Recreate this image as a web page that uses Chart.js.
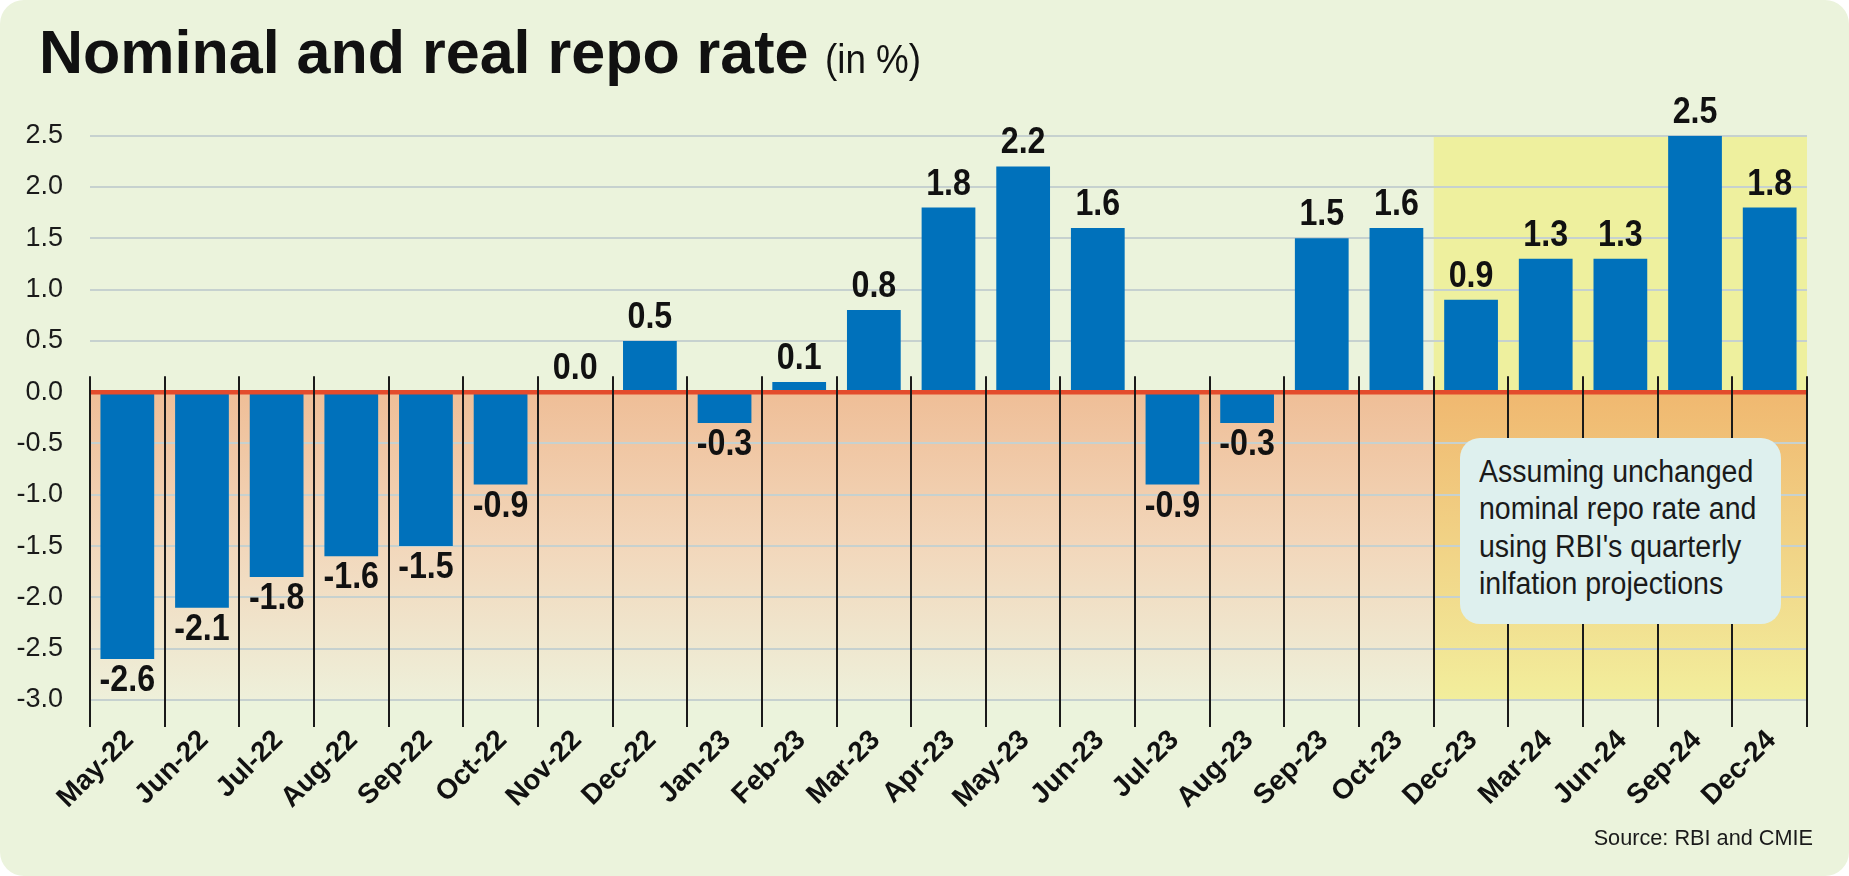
<!DOCTYPE html>
<html>
<head>
<meta charset="utf-8">
<script src="https://cdn.jsdelivr.net/npm/chart.js@4.4.1/dist/chart.umd.min.js"></script>
<style>
html,body{margin:0;padding:0;background:#ffffff;}
#wrap{position:relative;width:1849px;height:876px;overflow:hidden;}
#panel{position:absolute;left:0;top:0;width:1849px;height:876px;background:#ebf3dc;border-radius:24px;}
#chart{position:absolute;left:0;top:0;}
.t{position:absolute;font-family:'Liberation Sans',Arial,sans-serif;color:#111;white-space:nowrap;}
#title{left:39px;top:22.4px;font-size:61px;line-height:61px;font-weight:bold;}
#title span{font-weight:normal;font-size:40px;display:inline-block;transform:scaleX(0.92);transform-origin:left bottom;}
#note{position:absolute;left:1460px;top:438px;width:321px;height:186px;background:#def0ee;border-radius:20px;}
#note .t{left:19px;top:14.5px;font-size:31px;line-height:37.5px;transform:scaleX(0.92);transform-origin:left top;color:#1a1a1a;}
#src{right:36px;top:826.6px;font-size:21.7px;line-height:21.7px;color:#1a1a1a;}
</style>
</head>
<body>
<div id="wrap">
  <div id="panel"></div>
  <canvas id="chart" width="1849" height="876"></canvas>
  <div id="title" class="t">Nominal and real repo rate <span>(in %)</span></div>
  <div id="note"><div class="t">Assuming unchanged<br>nominal repo rate and<br>using RBI's quarterly<br>inlfation projections</div></div>
  <div id="src" class="t">Source: RBI and CMIE</div>
</div>
<script>
const categories = ['May-22','Jun-22','Jul-22','Aug-22','Sep-22','Oct-22','Nov-22','Dec-22','Jan-23','Feb-23','Mar-23','Apr-23','May-23','Jun-23','Jul-23','Aug-23','Sep-23','Oct-23','Dec-23','Mar-24','Jun-24','Sep-24','Dec-24'];
const realRepoRate = [-2.6,-2.1,-1.8,-1.6,-1.5,-0.9,0.0,0.5,-0.3,0.1,0.8,1.8,2.2,1.6,-0.9,-0.3,1.5,1.6,0.9,1.3,1.3,2.5,1.8];
const yTicks = [-3.0,-2.5,-2.0,-1.5,-1.0,-0.5,0.0,0.5,1.0,1.5,2.0,2.5];
const projectionStart = 'Dec-23';

const FONT = "'Liberation Sans', Arial, sans-serif";

const decor = {
  id: 'decor',
  beforeDraw(chart) {
    const ctx = chart.ctx, ca = chart.chartArea, x = chart.scales.x, y = chart.scales.y;
    const half = (x.getPixelForValue(1) - x.getPixelForValue(0)) / 2;
    const zeroY = y.getPixelForValue(0);
    const bottom = y.getPixelForValue(yTicks[0]);
    const top = y.getPixelForValue(yTicks[yTicks.length - 1]);
    const projX = x.getPixelForValue(categories.indexOf(projectionStart)) - half;
    ctx.save();
    let g = ctx.createLinearGradient(0, zeroY, 0, bottom);
    g.addColorStop(0, '#efbe97');
    g.addColorStop(0.5, '#f2d7bb');
    g.addColorStop(1, '#eef0da');
    ctx.fillStyle = g;
    ctx.fillRect(ca.left, zeroY, projX - ca.left, bottom - zeroY);
    ctx.fillStyle = '#eef09e';
    ctx.fillRect(projX, top, ca.right - projX, zeroY - top);
    g = ctx.createLinearGradient(0, zeroY, 0, bottom);
    g.addColorStop(0, '#f0b870');
    g.addColorStop(1, '#f2ee9c');
    ctx.fillStyle = g;
    ctx.fillRect(projX, zeroY, ca.right - projX, bottom - zeroY);
    ctx.restore();
  },
  afterDatasetsDraw(chart) {
    const ctx = chart.ctx, ca = chart.chartArea, x = chart.scales.x, y = chart.scales.y;
    const half = (x.getPixelForValue(1) - x.getPixelForValue(0)) / 2;
    const zeroY = y.getPixelForValue(0);
    ctx.save();
    ctx.strokeStyle = '#e34b2c';
    ctx.lineWidth = 4.5;
    ctx.beginPath();
    ctx.moveTo(ca.left, zeroY);
    ctx.lineTo(ca.right, zeroY);
    ctx.stroke();
    ctx.strokeStyle = '#1a1a1a';
    ctx.lineWidth = 2;
    ctx.beginPath();
    for (let i = 0; i <= categories.length; i++) {
      const px = Math.round(i < categories.length ? x.getPixelForValue(i) - half : x.getPixelForValue(i - 1) + half);
      ctx.moveTo(px, zeroY - 16);
      ctx.lineTo(px, ca.bottom + 27);
    }
    ctx.stroke();
    const meta = chart.getDatasetMeta(0);
    ctx.fillStyle = '#111';
    ctx.font = 'bold 37px ' + FONT;
    ctx.textAlign = 'center';
    ctx.textBaseline = 'alphabetic';
    meta.data.forEach((bar, i) => {
      const v = realRepoRate[i];
      const by = v >= 0 ? bar.y - 13 : bar.y + 32;
      ctx.save();
      ctx.translate(bar.x, by);
      ctx.scale(0.87, 1);
      ctx.fillText(v.toFixed(1), 0, 0);
      ctx.restore();
    });
    ctx.restore();
  }
};

new Chart(document.getElementById('chart'), {
  type: 'bar',
  data: {
    labels: categories,
    datasets: [{
      data: realRepoRate,
      backgroundColor: '#0071bb',
      borderWidth: 0,
      barPercentage: 0.72,
      categoryPercentage: 1.0
    }]
  },
  options: {
    responsive: false,
    devicePixelRatio: 1,
    animation: false,
    layout: { padding: { left: 0, right: 42, top: 135.7, bottom: 0 } },
    plugins: { legend: { display: false }, tooltip: { enabled: false }, title: { display: false } },
    scales: {
      x: {
        grid: { display: false },
        border: { display: false },
        afterFit: s => { s.height = 176; },
        ticks: {
          autoSkip: false, maxRotation: 45, minRotation: 45,
          padding: 16, labelOffset: 2,
          color: '#111',
          font: { family: FONT, size: 28, weight: 'bold' }
        }
      },
      y: {
        min: -3, max: 2.5,
        afterBuildTicks: s => { s.ticks = yTicks.map(v => ({ value: v })); },
        afterFit: s => { s.width = 90; },
        grid: { color: '#c6d1cf', lineWidth: 2, drawTicks: false },
        border: { display: false },
        ticks: {
          padding: 27, color: '#1a1a1a',
          font: { family: FONT, size: 27 },
          callback: v => Number(v).toFixed(1)
        }
      }
    }
  },
  plugins: [decor]
});
</script>
</body>
</html>
